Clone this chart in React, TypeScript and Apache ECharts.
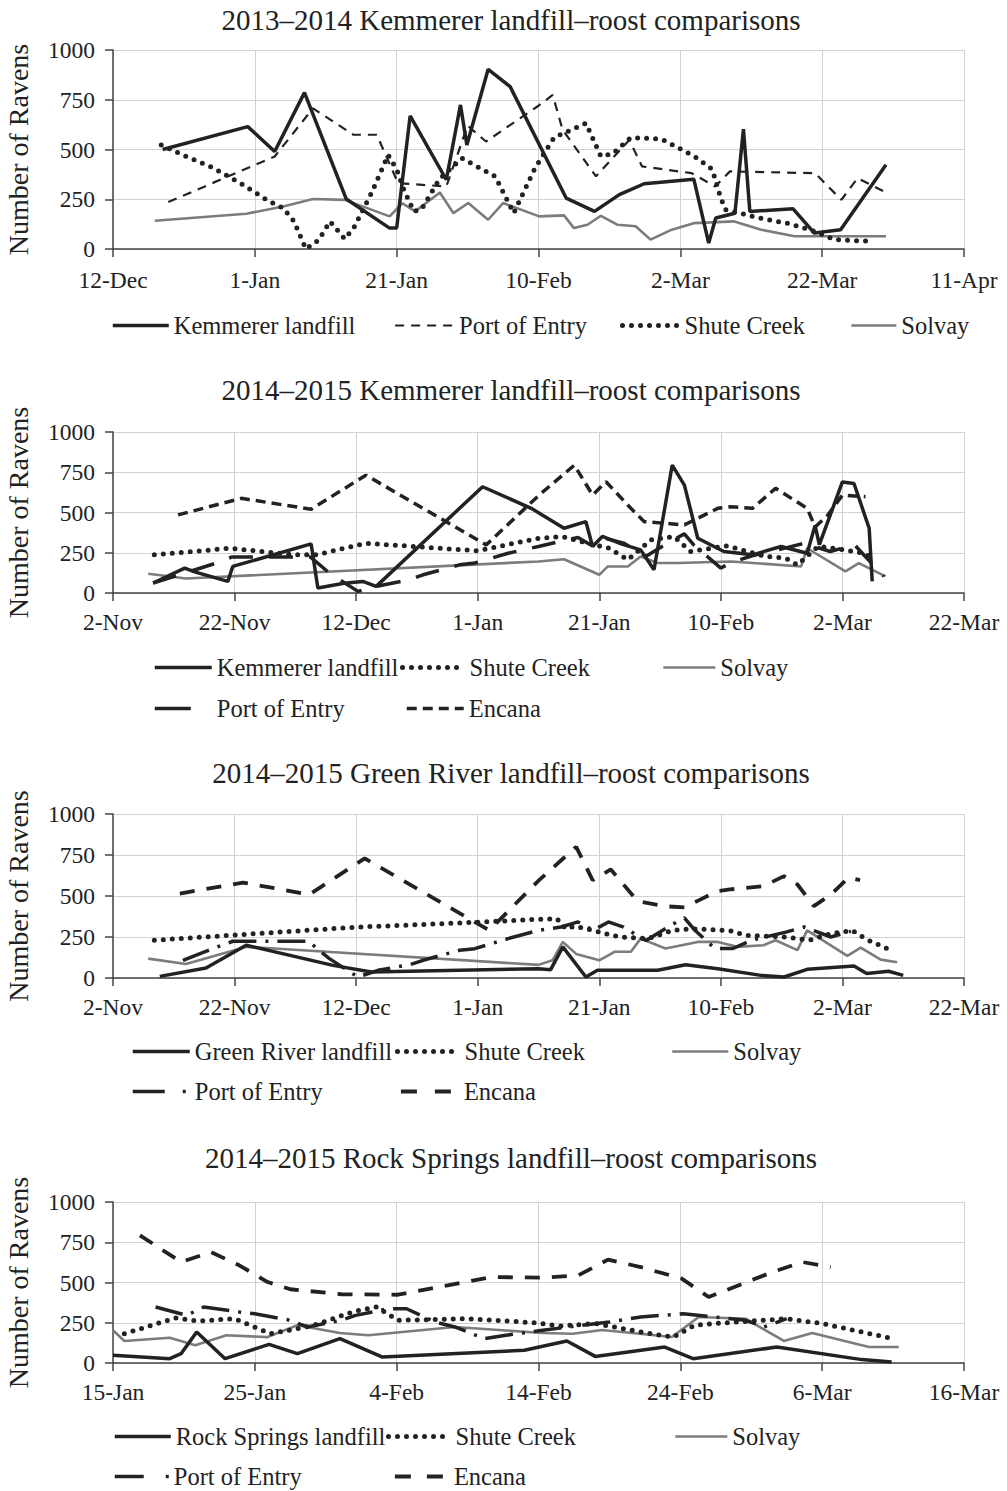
import React, { useEffect, useRef } from "react";
import * as echarts from "echarts";

const SERIF = "Liberation Serif";
const INK = "#222";

// ---------- tick labels ----------
const xLabels1 = ["12-Dec", "1-Jan", "21-Jan", "10-Feb", "2-Mar", "22-Mar", "11-Apr"];
const xLabels23 = ["2-Nov", "22-Nov", "12-Dec", "1-Jan", "21-Jan", "10-Feb", "2-Mar", "22-Mar"];
const xLabels4 = ["15-Jan", "25-Jan", "4-Feb", "14-Feb", "24-Feb", "6-Mar", "16-Mar"];

const titles = [
  "2013\u20132014 Kemmerer landfill\u2013roost comparisons",
  "2014\u20132015 Kemmerer landfill\u2013roost comparisons",
  "2014\u20132015 Green River landfill\u2013roost comparisons",
  "2014\u20132015 Rock Springs landfill\u2013roost comparisons",
];

// ---------- Panel 1: [days since 12-Dec-2013, ravens] ----------
const p1Kemmerer = [[7, 500], [19, 615], [22.8, 490], [27, 786], [32.9, 251], [39, 105], [40, 105], [41.9, 669], [47, 348], [49, 724], [49.9, 523], [52.9, 903], [56, 816], [63.9, 256], [67.9, 189], [71.4, 273], [74.9, 328], [81.9, 351], [84, 30], [85, 156], [87.7, 180], [88.9, 602], [89.8, 189], [95.9, 202], [98.9, 80], [102.6, 97], [109, 423]];
const p1Port = [[7.8, 236], [22.8, 465], [28.2, 707], [33.9, 574], [37.2, 574], [40.2, 331], [47, 314], [50, 620], [52.6, 540], [60, 720], [62, 774], [63.4, 599], [68.1, 365], [72.8, 548], [74.6, 415], [81.6, 381], [84.9, 314], [87, 390], [99, 381], [102.7, 247], [105, 356], [108.7, 289]];
const p1Shute = [[6.8, 523], [10, 470], [14, 410], [18, 330], [22, 240], [24, 206], [25.5, 140], [27.2, 0], [29, 45], [30.6, 139], [32.7, 50], [34, 110], [36.5, 285], [38.8, 473], [40, 400], [41, 300], [42.4, 189], [43.5, 200], [46, 350], [49.2, 456], [53.9, 365], [56.5, 180], [59.5, 406], [62.2, 560], [66.7, 632], [68.8, 465], [70.5, 480], [73, 560], [77.4, 552], [82, 465], [84.5, 400], [85.7, 256], [86.4, 197], [91.9, 150], [95.4, 127], [98.9, 89], [101.7, 47], [107.1, 38]];
const p1Solvay = [[5.9, 142], [18.8, 177], [24, 214], [28.2, 251], [32.7, 247], [39, 164], [40.8, 230], [42.6, 189], [46.1, 284], [48, 180], [50.1, 231], [52.9, 147], [55, 231], [60.1, 164], [63.6, 169], [65, 105], [66.9, 122], [68.8, 167], [71.1, 122], [73.7, 114], [75.8, 47], [78.8, 97], [81.9, 130], [84.4, 134], [87.5, 139], [91.4, 97], [96.1, 64], [99.4, 64], [109, 64]];

// ---------- Panel 2: [days since 2-Nov-2014, ravens] ----------
const p2Kemmerer = [[6.6, 62], [11.8, 155], [13.7, 128], [18.9, 72], [19.7, 165], [32.6, 305], [33.7, 31], [38, 60], [41.1, 72], [43.3, 41], [60.8, 660], [68.8, 526], [74.2, 402], [77.8, 443], [78.9, 289], [80.5, 351], [83.6, 305], [86.8, 268], [89, 144], [92, 794], [94, 670], [96.2, 340], [100.5, 258], [105.2, 237], [109.9, 289], [114.2, 247], [115.5, 420], [116.2, 300], [120, 690], [121.9, 680], [124.4, 402], [124.9, 72]];
const p2Shute = [[6.8, 237], [19.2, 278], [29.9, 237], [33.4, 237], [41.6, 309], [60, 262], [70, 340], [74, 350], [75.9, 330], [81.6, 278], [84.7, 206], [88.5, 330], [92.3, 350], [95, 258], [101, 293], [107.4, 227], [110.7, 216], [112.6, 175], [116, 290], [120, 270], [123, 250], [125.5, 216]];
const p2Solvay = [[5.8, 120], [12, 90], [70, 196], [74.2, 210], [80, 113], [81.4, 165], [84.7, 165], [86.8, 227], [89.6, 186], [92.9, 186], [101.6, 196], [113.2, 165], [114.2, 278], [120.5, 134], [122.7, 186], [127.1, 103]];
const p2Port = [[6.6, 62], [17, 186], [19.5, 223], [32.5, 223], [35.6, 124], [40.3, 10], [43.3, 41], [48.8, 82], [51, 113], [57, 175], [59.5, 186], [65, 247], [70, 289], [73.5, 320], [76.5, 345], [79, 290], [81, 340], [84, 310], [87.7, 228], [91.5, 316], [94, 367], [95.6, 296], [100, 155], [101.6, 186], [105, 230], [110.7, 280], [113.7, 309], [118, 258], [122, 299], [126.8, 103]];
const p2Encana = [[10.7, 485], [21.1, 588], [32.6, 520], [41.6, 732], [61.4, 299], [70.1, 608], [75.9, 794], [78.9, 608], [81.1, 691], [85.2, 526], [87.4, 443], [94, 423], [99.5, 526], [101.6, 536], [105.2, 526], [109, 650], [114.2, 526], [115.5, 410], [117.5, 480], [120, 608], [123.8, 598]];

// ---------- Panel 3: [days since 2-Nov-2014, ravens] ----------
const p3Landfill = [[7.7, 10], [15.3, 61], [21.9, 200], [36.2, 77], [42.5, 37], [70, 57], [72, 51], [74, 190], [77.8, 6], [79.7, 47], [89.6, 47], [94.2, 81], [99.5, 57], [106.6, 16], [110.4, 6], [114.2, 53], [121.9, 73], [124, 27], [127.6, 41], [130, 16]];
const p3Shute = [[6.8, 230], [20, 262], [40, 310], [60, 340], [70, 358], [73, 362], [74.5, 300], [76, 316], [79, 290], [83.3, 250], [88, 240], [92, 290], [95, 300], [101.4, 290], [104, 260], [110.7, 250], [114.5, 230], [118, 270], [121.6, 290], [124, 235], [127.9, 170]];
const p3Solvay = [[5.8, 118], [12, 85], [22, 190], [70, 80], [72.3, 108], [74, 220], [76.2, 147], [80, 108], [82.5, 160], [85.2, 160], [86.8, 240], [90.9, 180], [96.2, 220], [99.5, 220], [102.7, 190], [107, 200], [109, 230], [112.6, 170], [114.2, 290], [120.8, 135], [123, 185], [126.3, 112], [129, 96]];
const p3Port = [[11.5, 108], [17, 187], [19.7, 224], [32.3, 224], [33.4, 183], [35.6, 118], [40.3, 6], [43.6, 47], [48.8, 81], [51, 108], [57, 169], [59.5, 179], [65, 240], [70, 291], [73.7, 311], [76.5, 342], [79, 290], [81.5, 342], [84, 310], [87.7, 228], [91.5, 316], [94, 367], [95.6, 296], [99, 180], [102, 180], [105, 230], [110.7, 280], [113.7, 311], [118.1, 250], [121.4, 285]];
const p3Encana = [[11, 515], [21.4, 582], [32.3, 509], [41.4, 729], [61.9, 291], [70.1, 597], [76.2, 800], [78.9, 597], [81.9, 662], [86.3, 468], [90.7, 438], [94, 430], [99.4, 530], [101.5, 540], [107, 560], [110.4, 621], [112.6, 570], [115.3, 438], [118.1, 509], [121, 611], [122.9, 597]];

// ---------- Panel 4: [days since 15-Jan-2015, ravens] ----------
const p4Landfill = [[0, 48], [4, 27], [4.8, 58], [5.9, 193], [7.9, 27], [11, 116], [13, 58], [16, 151], [19, 37], [29, 79], [32, 137], [34, 41], [38.9, 99], [40.9, 27], [46.8, 99], [52.8, 21], [54.9, 6]];
const p4Shute = [[0.8, 182], [4.4, 280], [6, 261], [8.6, 275], [11.1, 182], [14, 230], [17, 320], [18.6, 348], [20.1, 265], [25, 275], [29.8, 250], [31.5, 230], [34, 245], [37.9, 182], [39.5, 160], [41, 235], [44, 255], [47.5, 275], [50, 245], [54.7, 157]];
const p4Solvay = [[0, 203], [0.8, 137], [4, 157], [5.8, 110], [8, 172], [10.9, 161], [13, 234], [16, 186], [18, 172], [24.1, 224], [30.3, 186], [32.4, 182], [34.5, 205], [39.4, 161], [41.3, 286], [44.6, 275], [47.3, 137], [49.3, 186], [53.3, 99], [55.4, 99]];
const p4Port = [[3, 348], [5.2, 296], [6.4, 348], [8.9, 317], [10, 306], [12.3, 269], [13.7, 224], [16.1, 265], [17.1, 296], [19.4, 337], [20.7, 337], [22.7, 255], [24.1, 224], [26.2, 151], [27.7, 172], [30.3, 203], [33, 234], [35, 255], [37.2, 286], [40.2, 306], [42.4, 286], [44.6, 265], [45.9, 224], [47.5, 275]];
const p4Encana = [[1.9, 793], [4.8, 627], [6.9, 689], [8.9, 607], [10.9, 503], [12.5, 458], [16.1, 427], [20.1, 424], [23.6, 482], [26.7, 534], [30.4, 530], [32.8, 544], [34.9, 642], [37.2, 596], [40.1, 524], [42, 410], [46.5, 565], [48.6, 627], [50.6, 596]];

// ---------- styles ----------
const stLandfill = { color: INK, width: 3.5, type: "solid" };
const stPort1 = { color: INK, width: 2.2, type: [9, 7] };
const stShute = { color: INK, width: 5, type: [0, 9], cap: "round" };
const stSolvay = { color: "#7c7c7c", width: 2.6, type: "solid" };
const stEncana2 = { color: INK, width: 3.5, type: [10, 6] };
const stEncana34 = { color: INK, width: 3.8, type: [15, 12] };
const stPort2 = { color: INK, width: 3.5, type: [24, 16] };
const stPort34 = { color: INK, width: 3.5, type: [28, 9, 3, 9] };

const grids = [
  { top: 50, height: 199, max: 120, interval: 20, labels: xLabels1 },
  { top: 432, height: 161, max: 140, interval: 20, labels: xLabels23 },
  { top: 814, height: 164, max: 140, interval: 20, labels: xLabels23 },
  { top: 1202, height: 161, max: 60, interval: 10, labels: xLabels4 },
];
const titleCenters = [20, 390, 773, 1158];

function line(name: string, g: number, data: number[][], style: any, z = 2) {
  return {
    type: "line",
    name,
    xAxisIndex: g,
    yAxisIndex: g,
    data,
    symbol: "none",
    showSymbol: false,
    silent: true,
    lineStyle: style,
    itemStyle: { color: style.color },
    emphasis: { disabled: true },
    z,
  };
}

function leg(name: string, left: number, cy: number, w: number, lineStyle: any) {
  return {
    data: [name],
    left,
    top: cy - 13,
    itemWidth: w,
    itemHeight: 14,
    itemGap: 0,
    padding: 0,
    selectedMode: false,
    textStyle: { fontFamily: SERIF, fontSize: 24.5, color: INK },
    formatter: (n: string) => n.split("|")[1],
    itemStyle: { opacity: 0 },
    lineStyle: { ...lineStyle, opacity: 1 },
  };
}

export default function App() {
  const ref = useRef<HTMLDivElement>(null);
  useEffect(() => {
    document.body.style.margin = "0";
    const chart = echarts.init(ref.current!, null, { renderer: "svg" });
    const option: any = {
      animation: false,
      backgroundColor: "#fff",
      title: titles.map((t, i) => ({
        text: t,
        left: 511,
        textAlign: "center",
        top: titleCenters[i] - 15,
        padding: 0,
        textStyle: { fontFamily: SERIF, fontSize: 29, fontWeight: "normal", color: INK },
      })),
      grid: grids.map((g) => ({
        left: 113,
        right: 43,
        top: g.top,
        height: g.height,
        containLabel: false,
        outerBoundsMode: "none",
      })),
      xAxis: grids.map((g, i) => ({
        type: "value",
        gridIndex: i,
        min: 0,
        max: g.max,
        interval: g.interval,
        axisLine: { show: true, lineStyle: { color: "#444", width: 1.5 } },
        axisTick: { show: true, length: 8, lineStyle: { color: "#444", width: 1.5 } },
        splitLine: { show: true, lineStyle: { color: "#d2d2d2", width: 1 } },
        axisLabel: {
          margin: i === 0 ? 19 : 17,
          fontFamily: SERIF,
          fontSize: 23.5,
          color: INK,
          formatter: (v: number) => g.labels[Math.round(v / g.interval)] ?? "",
        },
      })),
      yAxis: grids.map((g, i) => ({
        type: "value",
        gridIndex: i,
        min: 0,
        max: 1000,
        interval: 250,
        name: "Number of Ravens",
        nameLocation: "middle",
        nameGap: 81,
        nameTextStyle: { fontFamily: SERIF, fontSize: 28, color: INK },
        axisLine: { show: true, lineStyle: { color: "#444", width: 1.5 } },
        axisTick: { show: true, length: 8, lineStyle: { color: "#444", width: 1.5 } },
        splitLine: { show: true, lineStyle: { color: "#d2d2d2", width: 1 } },
        axisLabel: { margin: 18, fontFamily: SERIF, fontSize: 23.5, color: INK, formatter: (v: number) => String(v) },
      })),
      legend: [
        leg("p1|Kemmerer landfill", 111, 326, 56, stLandfill),
        leg("p1|Port of Entry", 394, 326, 59, stPort1),
        leg("p1|Shute Creek", 620, 326, 57, stShute),
        leg("p1|Solvay", 850, 326, 45, stSolvay),
        leg("p2|Kemmerer landfill", 153, 668, 57, stLandfill),
        leg("p2|Shute Creek", 400, 668, 62, stShute),
        leg("p2|Solvay", 662, 668, 52, stSolvay),
        leg("p2|Port of Entry", 153, 709, 57, { ...stPort2, type: [36, 40] }),
        leg("p2|Encana", 405, 709, 57, stEncana2),
        leg("p3|Green River landfill", 131, 1052, 57, stLandfill),
        leg("p3|Shute Creek", 395, 1052, 62, stShute),
        leg("p3|Solvay", 671, 1052, 56, stSolvay),
        leg("p3|Port of Entry", 131, 1092, 57, { ...stPort34, type: [32, 18, 3, 40] }),
        leg("p3|Encana", 399, 1092, 58, { ...stEncana34, type: [16, 18] }),
        leg("p4|Rock Springs landfill", 113, 1437, 56, stLandfill),
        leg("p4|Shute Creek", 386, 1437, 62, stShute),
        leg("p4|Solvay", 674, 1437, 52, stSolvay),
        leg("p4|Port of Entry", 113, 1477, 54, { ...stPort34, type: [29, 22, 3, 40] }),
        leg("p4|Encana", 393, 1477, 54, { ...stEncana34, type: [16, 16] }),
      ],
      series: [
        line("p1|Solvay", 0, p1Solvay, stSolvay, 1),
        line("p1|Shute Creek", 0, p1Shute, stShute),
        line("p1|Port of Entry", 0, p1Port, stPort1),
        line("p1|Kemmerer landfill", 0, p1Kemmerer, stLandfill, 3),

        line("p2|Solvay", 1, p2Solvay, stSolvay, 1),
        line("p2|Shute Creek", 1, p2Shute, stShute),
        line("p2|Port of Entry", 1, p2Port, stPort2),
        line("p2|Encana", 1, p2Encana, stEncana2),
        line("p2|Kemmerer landfill", 1, p2Kemmerer, stLandfill, 3),

        line("p3|Solvay", 2, p3Solvay, stSolvay, 1),
        line("p3|Shute Creek", 2, p3Shute, stShute),
        line("p3|Port of Entry", 2, p3Port, stPort34),
        line("p3|Encana", 2, p3Encana, stEncana34),
        line("p3|Green River landfill", 2, p3Landfill, stLandfill, 3),

        line("p4|Solvay", 3, p4Solvay, stSolvay, 1),
        line("p4|Shute Creek", 3, p4Shute, stShute),
        line("p4|Port of Entry", 3, p4Port, stPort34),
        line("p4|Encana", 3, p4Encana, stEncana34),
        line("p4|Rock Springs landfill", 3, p4Landfill, stLandfill, 3),
      ],
    };
    chart.setOption(option);
    return () => chart.dispose();
  }, []);
  return <div ref={ref} style={{ width: 1007, height: 1491 }} />;
}
